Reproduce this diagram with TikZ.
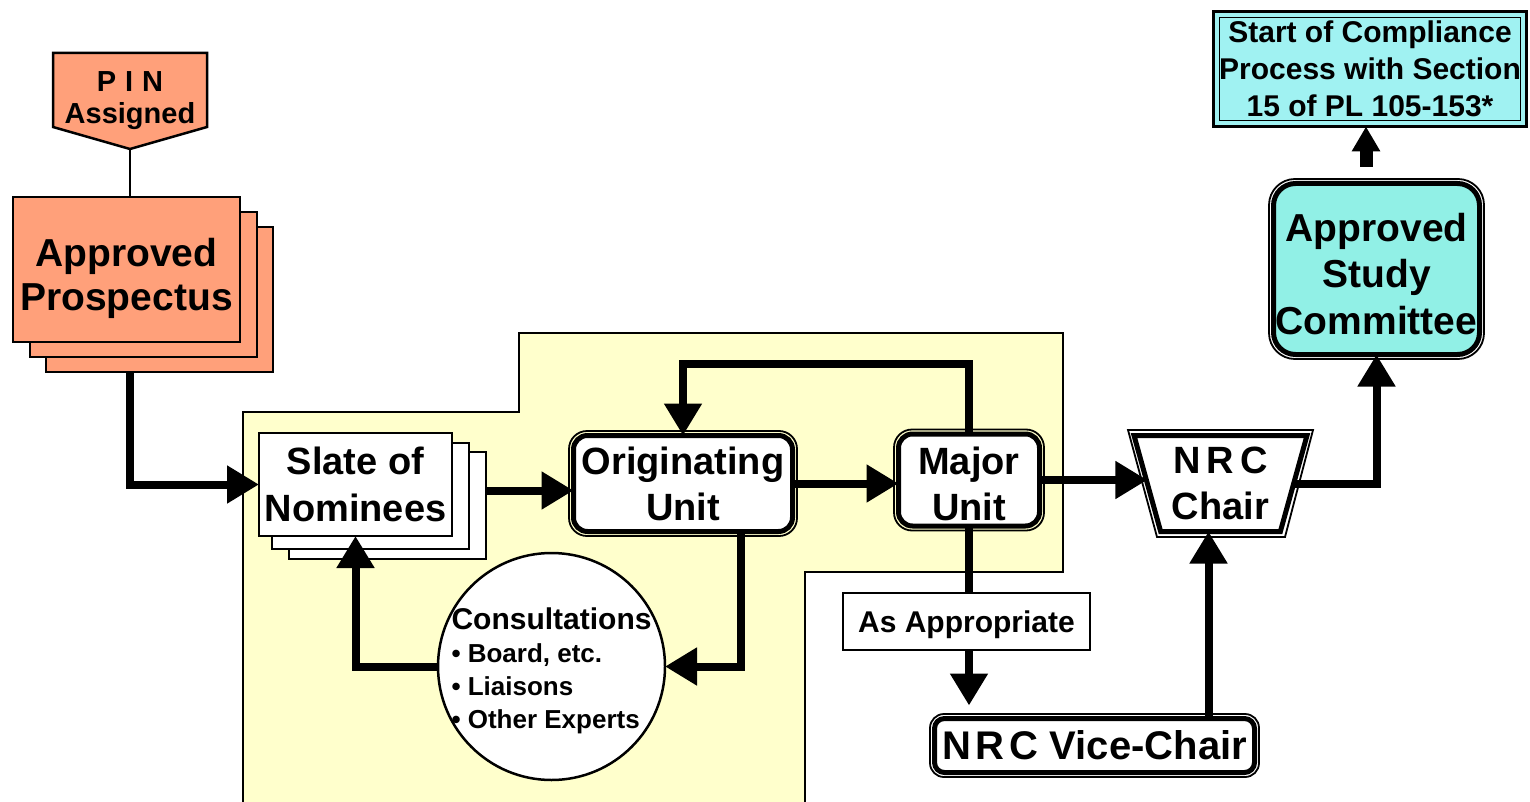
\documentclass[tikz,border=0pt]{standalone}
\usepackage{fontspec}
\setmainfont{Liberation Sans}
\usetikzlibrary{arrows.meta,shapes.geometric}
\definecolor{salmon}{RGB}{255,160,122}
\definecolor{yel}{RGB}{255,255,204}
\definecolor{aqua}{RGB}{145,240,230}
\definecolor{aqualt}{RGB}{160,242,242}
\newcommand\myfs[2]{\fontsize{#1pt}{#2pt}\selectfont\bfseries}
\newcommand\lowr[2]{\raisebox{-#1}[\height][\depth]{#2}}
\begin{document}
\begin{tikzpicture}[x=1pt,y=-1pt,
  conn/.style={line width=8pt,-{Triangle[width=36pt,length=32pt]}},
  plainbox/.style={draw,line width=2.5pt,inner sep=0pt,outer sep=0pt,align=center},
  dblbox/.style={draw,line width=5pt,fill=white,inner sep=0pt,outer sep=0pt,align=center,font=\myfs{38}{46}},
  thinout/.style={line width=1.8pt}]
\useasboundingbox (0,0) rectangle (1530,802);
% yellow area
\fill[yel] (243,802) -- (243,412) -- (519,412) -- (519,333) -- (1063,333) -- (1063,572) -- (805,572) -- (805,802) -- cycle;
\draw[line width=2pt] (243,802) -- (243,412) -- (519,412) -- (519,333) -- (1063,333) -- (1063,572) -- (805,572) -- (805,802);
% PIN
\draw[line width=2.5pt, fill=salmon] (53,53) -- (207,53) -- (207,127) -- (130,149) -- (53,127) -- cycle;
\node[font=\myfs{29}{32}, align=center] (pin) at (130,101) {P\kern9pt I\kern9pt N\\Assigned};
\coordinate (pintip) at (130,149);
% prospectus stack
\draw[line width=2.5pt, fill=salmon] (46,227) rectangle (273,372);
\draw[line width=2.5pt, fill=salmon] (30,212) rectangle (257,357);
\node[plainbox, fill=salmon, minimum width=227pt, minimum height=145pt, font=\myfs{39}{44}] (prosp) at (126.5,269.5) {\rule{0pt}{46pt}Approved\\Prospectus};
\draw[line width=2pt] (pintip) -- (pintip |- prosp.north);
% slate stack
\draw[line width=2.5pt, fill=white] (289,452) rectangle (486,559);
\draw[line width=2.5pt, fill=white] (272,443) rectangle (469,549);
\node[plainbox, fill=white, minimum width=193pt, minimum height=103pt, font=\myfs{38}{47}] (slate) at (355.5,484.5) {Slate of\\Nominees};
% originating unit
\node[dblbox, rounded corners=14pt, minimum width=219pt, minimum height=96pt] (orig) at (683,483.5) {Originating\\Unit};
\draw[thinout, rounded corners=18pt] ([shift={(-4.5,-4.5)}]orig.north west) rectangle ([shift={(4.5,4.5)}]orig.south east);
% major unit
\node[dblbox, rounded corners=14pt, minimum width=141pt, minimum height=89pt] (major) at (969,480) {\lowr{8pt}{\begin{tabular}{@{}c@{}}Major\\Unit\end{tabular}}};
\draw[thinout, rounded corners=18pt] ([shift={(-4.5,-4.5)}]major.north west) rectangle ([shift={(4.5,4.5)}]major.south east);
% NRC chair
\node[draw, line width=5pt, fill=white, trapezium, trapezium left angle=106.5, trapezium right angle=106.5, trapezium stretches=true, minimum width=173pt, minimum height=96pt, inner sep=0pt, outer sep=0pt, align=center, font=\myfs{38}{46}] (chair) at (1220.5,483.5) {N\kern6pt R\kern6pt C\\Chair};
\draw[thinout] (1128,430) -- (1313,430) -- (1285,537) -- (1157,537) -- cycle;
% approved study committee
\node[dblbox, fill=aqua, rounded corners=22pt, minimum width=206pt, minimum height=171pt, font=\myfs{39}{46.5}] (asc) at (1376.5,269) {\rule{0pt}{38pt}Approved\\Study\\Committee};
\draw[thinout, rounded corners=26pt] ([shift={(-4.5,-4.5)}]asc.north west) rectangle ([shift={(4.5,4.5)}]asc.south east);
% start of compliance
\node[draw, line width=3pt, fill=aqualt, minimum width=313pt, minimum height=115pt, inner sep=0pt, outer sep=0pt, align=center, font=\myfs{30}{37}] (start) at (1370,69) {Start of Compliance\\Process with Section\\15 of PL 105-153*};
\draw[line width=1.5pt] ([shift={(6,6)}]start.north west) rectangle ([shift={(-6,-6)}]start.south east);
% consultations
\node[circle, draw, line width=2.5pt, fill=white, minimum size=227pt, inner sep=0pt, outer sep=0pt] (cons) at (551.5,666.5) {\myfs{26}{33}\makebox[0pt]{\lowr{6pt}{\begin{tabular}{@{}l@{}}\multicolumn{1}{@{}c@{}}{\myfs{30}{33}Consultations}\\ \textbullet\ Board, etc.\\ \textbullet\ Liaisons\\ \textbullet\ Other Experts\end{tabular}}}};
% as appropriate
\node[draw, line width=2pt, fill=white, minimum width=247pt, minimum height=57pt, inner sep=0pt, outer sep=0pt, font=\myfs{30}{34}] (asapp) at (966.5,621.5) {\lowr{3pt}{As Appropriate}};
% vice chair
\node[dblbox, rounded corners=10pt, minimum width=320pt, minimum height=54pt, font=\myfs{40}{46}] (vice) at (1094.5,745.5) {N\kern5pt R\kern5pt C Vice-Chair};
\draw[thinout, rounded corners=14pt] ([shift={(-4.5,-4.5)}]vice.north west) rectangle ([shift={(4.5,4.5)}]vice.south east);
% connectors
\coordinate (p1) at ([shift={(3,30)}]prosp.south);
\draw[conn] (p1) |- (slate.west);
\coordinate (s1) at ([shift={(33,6)}]slate.east);
\draw[conn] (s1) -- (s1 -| orig.west);
\draw[conn] (orig.east) -- (orig.east -| major.west);
\draw[conn] (major.east) -- (major.east -| chair.west);
\draw[conn] (chair.east) -| (asc.south);
\coordinate (a1) at (1366,167);
\draw[line width=13pt, -{Triangle[width=27pt,length=25pt]}] (a1) -- (a1 |- start.south);
\draw[conn] (major.north) -- ++(0,-70) -| (orig.north);
\coordinate (o1) at ([xshift=58pt]orig.south);
\draw[conn] (o1) |- (cons.east);
\draw[conn] (cons.west) -| (slate.south);
\draw[line width=8pt] (major.south) -- (major.south |- asapp.north);
\coordinate (m1) at (major.south |- asapp.south);
\draw[conn, shorten >=13pt] (m1) -- (m1 |- vice.north);
\coordinate (v1) at ([xshift=114pt]vice.north);
\draw[conn] (v1) -- (v1 |- chair.south);
\end{tikzpicture}
\end{document}
